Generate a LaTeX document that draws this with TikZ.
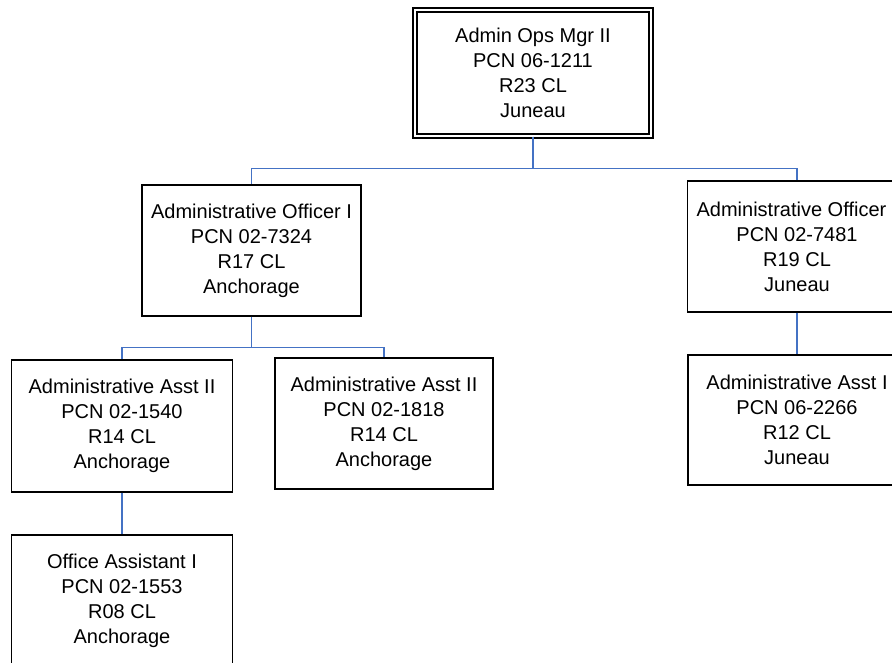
\documentclass[tikz,border=0pt]{standalone}
\usepackage{fontspec}
\setmainfont{Liberation Sans}
\usepackage{tikz}

\definecolor{linkblue}{RGB}{68,114,196}

\begin{document}
\begin{tikzpicture}[x=1pt,y=1pt,
        post/.style={draw=black, line width=1.2pt, align=center, inner sep=0pt,
                     minimum width=219pt, minimum height=131pt,
                     font=\fontsize{20}{25}\selectfont},
        link/.style={draw=linkblue, line width=1.3pt}]
        \useasboundingbox (0,0) rectangle (892,-663);
        \clip (0,0) rectangle (892,-663);
        % top of the chart
        \node [post, double, double distance=2.6pt, line width=1.3pt,
               minimum width=236pt, minimum height=126pt] (ops) at (533,-73) {Admin Ops Mgr II\\PCN 06-1211\\R23 CL\\Juneau};
        % second row
        \node [post] (offa) at (251.5,-250.5) {Administrative Officer I\\PCN 02-7324\\R17 CL\\Anchorage};
        \node [post] (offb) at (797,-246.5) {Administrative Officer\phantom{ I}\\PCN 02-7481\\R19 CL\\Juneau};
        % third row
        \node [post, minimum width=221pt, minimum height=132pt] (assta) at (122,-426) {Administrative Asst II\\PCN 02-1540\\R14 CL\\Anchorage};
        \node [post, minimum width=218pt] (asstb) at (384,-423.5) {Administrative Asst II\\PCN 02-1818\\R14 CL\\Anchorage};
        \node [post, minimum width=218pt, minimum height=130pt] (asstc) at (797,-420) {Administrative Asst I\\PCN 06-2266\\R12 CL\\Juneau};
        % bottom
        \node [post, minimum width=221pt, minimum height=132pt] (offasst) at (122,-601) {Office Assistant I\\PCN 02-1553\\R08 CL\\Anchorage};
        % connectors
        \draw [link] (ops.south) -- ++(0,-32) -| (offa.north);
        \draw [link] (ops.south) -- ++(0,-32) -| (offb.north);
        \draw [link] (offa.south) -- ++(0,-31) -| (assta.north);
        \draw [link] (offa.south) -- ++(0,-31) -| (asstb.north);
        \draw [link] (offb.south) -- (asstc.north);
        \draw [link] (assta.south) -- (offasst.north);
\end{tikzpicture}
\end{document}
